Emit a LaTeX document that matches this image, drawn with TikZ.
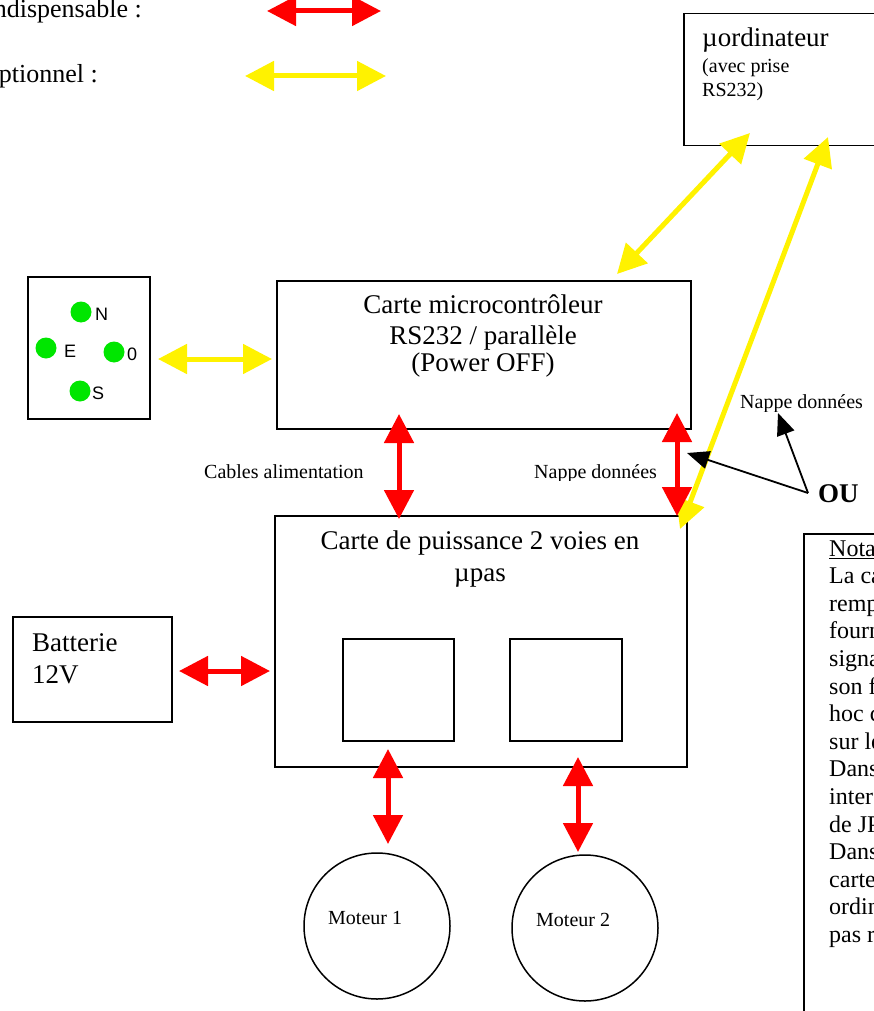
\documentclass[tikz,border=0pt]{standalone}
\usepackage{fontspec}
\setmainfont{Liberation Serif}
\newfontfamily\arialf{Liberation Sans}
\usetikzlibrary{arrows.meta}
\definecolor{fgreen}{RGB}{0,230,0}
\begin{document}
\begin{tikzpicture}[x=1pt,y=-1pt,
  box/.style={draw, line width=1.5pt, inner sep=0pt, anchor=north west},
  big/.style={font=\fontsize{27}{31}\selectfont, inner sep=0pt},
  leg/.style={font=\fontsize{26}{30}\selectfont, inner sep=0pt},
  nota/.style={font=\fontsize{24}{28}\selectfont, inner sep=0pt, anchor=base west},
  small/.style={font=\fontsize{20}{24}\selectfont, inner sep=0pt},
  compass/.style={font=\arialf\fontsize{18}{20}\selectfont, inner sep=0pt, anchor=base west},
  dot/.style={circle, fill=fgreen, inner sep=0pt, minimum size=21pt},
  redarr/.style={draw=red, line width=5pt, {Triangle[length=29pt,width=29pt]}-{Triangle[length=29pt,width=29pt]}},
  yelarr/.style={draw=yellow, line width=5pt, {Triangle[length=29pt,width=29pt]}-{Triangle[length=29pt,width=29pt]}},
  blkarr/.style={draw=black, line width=1.8pt, -{Triangle[length=22pt,width=18pt]}}
]
\useasboundingbox (0,0) rectangle (874,1011);
\clip (0,0) rectangle (874,1011);

% legend
\node[leg, anchor=base east] (lindisp) at (142,18) {Indispensable :};
\node[leg, anchor=base east] (lopt) at (98,83) {Optionnel :};
\coordinate (lr1) at (267,11);  \coordinate (lr2) at (381,11);
\coordinate (ly1) at (245,76);  \coordinate (ly2) at (386,76);
\draw[redarr] (lr1) -- (lr2);
\draw[yelarr] (ly1) -- (ly2);

% boxes
\node[box, minimum width=230pt, minimum height=132pt] (ordi) at (683,13) {};
\node[big, anchor=base west] (ordit) at (702,47) {µordinateur};
\node[small, anchor=base west] (ordit2) at (702,73) {(avec prise};
\node[small, anchor=base west] (ordit3) at (702,97) {RS232)};

\node[box, minimum width=122pt, minimum height=142pt] (nesw) at (27,276) {};
\node[dot] (dn) at (81,312) {};
\node[dot] (de) at (46,348) {};
\node[dot] (do) at (114,352) {};
\node[dot] (ds) at (80,391) {};
\node[compass] (tn) at (95,320) {N};
\node[compass] (te) at (64,357) {E};
\node[compass] (to) at (127,360) {0};
\node[compass] (ts) at (92,399) {S};

\node[box, minimum width=414pt, minimum height=148pt] (micro) at (276,280) {};
\node[big, anchor=base] (mic1) at (483,313) {Carte microcontrôleur};
\node[big, anchor=base] (mic2) at (483,344) {RS232 / parallèle};
\node[big, anchor=base] (mic3) at (483,371) {(Power OFF)};

\node[box, minimum width=412pt, minimum height=251pt] (puis) at (274,515) {};
\node[big, anchor=base] (pui1) at (480,549) {Carte de puissance 2 voies en};
\node[big, anchor=base] (pui2) at (480,581) {µpas};
\node[box, minimum width=111pt, minimum height=102pt] (sq1) at (342,638) {};
\node[box, minimum width=112pt, minimum height=102pt] (sq2) at (509,638) {};

\node[box, minimum width=159pt, minimum height=105pt] (batt) at (12,616) {};
\node[big, anchor=base west] (bat1) at (32,651) {Batterie};
\node[big, anchor=base west] (bat2) at (32,683) {12V};

\node[draw, line width=1.5pt, circle, minimum size=146pt, inner sep=0pt] (m1) at (377,926) {};
\node[draw, line width=1.5pt, circle, minimum size=146pt, inner sep=0pt] (m2) at (585,928) {};
\node[small, anchor=base west] (m1t) at (328,924) {Moteur 1};
\node[small, anchor=base west] (m2t) at (536,926) {Moteur 2};

% labels
\node[small, anchor=base west] (cab) at (204,478) {Cables alimentation};
\begin{scope}
  \clip (520,450) rectangle (670,480.5);
  \node[small, anchor=base west] (nap1) at (534,478) {Nappe données};
\end{scope}
\begin{scope}
  \clip (730,380) rectangle (874,411.5);
  \node[small, anchor=base west] (nap2) at (740,408) {Nappe données};
\end{scope}
\node[inner sep=0pt, anchor=base west, font=\fontsize{27}{31}\selectfont\bfseries] (ou) at (818,502) {OU};

% nota
\node[box, minimum width=200pt, minimum height=600pt] (notabox) at (803,533) {};
\node[nota] (n0) at (829,556) {\underline{Nota :}};
\node[nota] (n1) at (829,583.6) {La ca};
\node[nota] (n2) at (829,611.2) {remp};
\node[nota] (n3) at (829,638.8) {fourn};
\node[nota] (n4) at (829,666.4) {signa};
\node[nota] (n5) at (829,694.0) {son f};
\node[nota] (n6) at (829,721.6) {hoc c};
\node[nota] (n7) at (829,749.2) {sur le};
\node[nota] (n8) at (829,776.8) {Dans};
\node[nota] (n9) at (829,804.4) {inter};
\node[nota] (n10) at (829,832.0) {de JP};
\node[nota] (n11) at (829,859.6) {Dans};
\node[nota] (n12) at (829,887.2) {carte};
\node[nota] (n13) at (829,914.8) {ordin};
\node[nota] (n14) at (829,942.4) {pas r};

% connectors
\coordinate (a1) at (158,359); \coordinate (a2) at (272,359);
\draw[yelarr] (a1) -- (a2);
\coordinate (b1) at (617,274); \coordinate (b2) at (750,133);
\draw[yelarr] (b1) -- (b2);
\coordinate (c1) at (828,137); \coordinate (c2) at (680,529);
\draw[yelarr] (c1) -- (c2);
\coordinate (d1) at (399,414); \coordinate (d2) at (399,519);
\draw[redarr] (d1) -- (d2);
\coordinate (e1) at (677,413); \coordinate (e2) at (677,516);
\draw[redarr] (e1) -- (e2);
\coordinate (f1) at (179,671); \coordinate (f2) at (270,671);
\draw[redarr] (f1) -- (f2);
\coordinate (g1) at (388,749); \coordinate (g2) at (388,844);
\draw[redarr] (g1) -- (g2);
\coordinate (h1) at (578,757); \coordinate (h2) at (578,852);
\draw[redarr] (h1) -- (h2);
\coordinate (ouo) at (808,493);
\coordinate (k1) at (687,453); \coordinate (k2) at (778,413);
\draw[blkarr] (ouo) -- (k1);
\draw[blkarr] (ouo) -- (k2);
\end{tikzpicture}
\end{document}
